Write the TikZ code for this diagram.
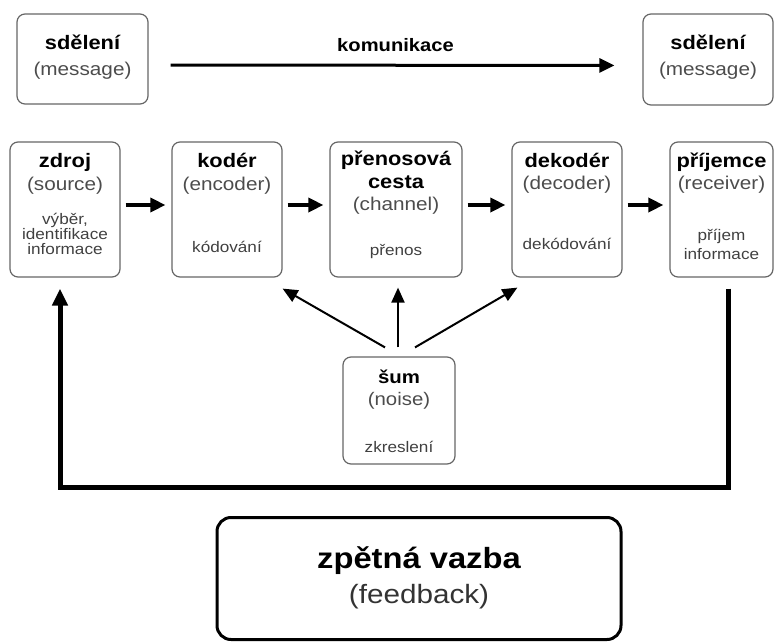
\documentclass[tikz,border=0pt]{standalone}
\usepackage{fontspec}
\setmainfont[FakeStretch=1.12]{Liberation Sans}
\usetikzlibrary{arrows.meta,positioning}

\tikzset{
  box/.style={draw=black!60,line width=1.2pt,rounded corners=8pt,inner sep=0pt},
  nazev/.style={anchor=base,inner sep=0pt,font=\bfseries\fontsize{19.5}{21}\selectfont},
  anglicky/.style={anchor=base,inner sep=0pt,text=black!70,font=\fontsize{18.5}{21}\selectfont},
  popis/.style={anchor=base,inner sep=0pt,text=black!75,font=\fontsize{15.3}{16}\selectfont},
  sipka/.style={-{Triangle[length=15pt,width=14pt]},line width=3.5pt},
  tenka/.style={-{Triangle[length=15pt,width=13pt]},line width=2pt},
}

\begin{document}
\begin{tikzpicture}[x=1pt,y=-1pt,line join=round]
\useasboundingbox (0,0) rectangle (774,642);

% sdeleni nahore
\node[box,minimum width=131pt,minimum height=90pt] (zprava1) at (82.5,59) {};
\node[box,minimum width=130pt,minimum height=91pt] (zprava2) at (708,59.5) {};
\node[nazev] (zprava1-n) at (82.5,50) {sdělení};
\node[anglicky] (zprava1-a) at (82.5,76) {(message)};
\node[nazev] (zprava2-n) at (708,50) {sdělení};
\node[anglicky] (zprava2-a) at (708,76) {(message)};
\draw[sipka,line width=3pt,shorten <=22pt,shorten >=28pt] ([yshift=-6pt]zprava1.east) -- ([yshift=-6pt]zprava2.west)
  node[midway,above=9pt,font=\bfseries\fontsize{18}{20}\selectfont] (komunikace) {komunikace};

% rada bloku
\node[box,minimum width=110pt,minimum height=135pt] (zdroj) at (65,209.5) {};
\node[box,minimum width=110pt,minimum height=135pt] (koder) at (227,209.5) {};
\node[box,minimum width=132pt,minimum height=135pt] (kanal) at (396,209.5) {};
\node[box,minimum width=110pt,minimum height=135pt] (dekoder) at (567,209.5) {};
\node[box,minimum width=103pt,minimum height=135pt] (prijemce) at (721.5,209.5) {};

\node[nazev] (zdroj-n) at (65,167) {zdroj};
\node[anglicky] (zdroj-a) at (65,190) {(source)};
\node[popis] (zdroj-p1) at (65,224) {výběr,};
\node[popis] (zdroj-p2) at (65,239) {identifikace};
\node[popis] (zdroj-p3) at (65,254) {informace};

\node[nazev] (koder-n) at (227,167) {kodér};
\node[anglicky] (koder-a) at (227,190) {(encoder)};
\node[popis] (koder-p) at (227,252) {kódování};

\node[nazev] (kanal-n) at (396,165) {přenosová};
\node[nazev] (kanal-n2) at (396,188) {cesta};
\node[anglicky] (kanal-a) at (396,210) {(channel)};
\node[popis] (kanal-p) at (396,255) {přenos};

\node[nazev] (dekoder-n) at (567,167) {dekodér};
\node[anglicky] (dekoder-a) at (567,189) {(decoder)};
\node[popis] (dekoder-p) at (567,249) {dekódování};

\node[nazev] (prijemce-n) at (721.5,167) {příjemce};
\node[anglicky] (prijemce-a) at (721.5,189) {(receiver)};
\node[popis] (prijemce-p1) at (721.5,240) {příjem};
\node[popis] (prijemce-p2) at (721.5,259) {informace};

\foreach \a/\b in {zdroj/koder,koder/kanal,kanal/dekoder,dekoder/prijemce}
  \draw[sipka,shorten <=5pt,shorten >=6pt] ([yshift=4.5pt]\a.east) -- ([yshift=4.5pt]\b.west);

% sum
\node[box,minimum width=112pt,minimum height=107pt] (sum) at (399,410.5) {};
\node[nazev,font=\bfseries\fontsize{18.2}{20}\selectfont] (sum-n) at (399,383) {šum};
\node[anglicky,font=\fontsize{18.2}{20}\selectfont] (sum-a) at (399,405) {(noise)};
\node[popis] (sum-p) at (399,452) {zkreslení};

\draw[tenka] ([xshift=-14pt,yshift=9pt]sum.north) -- ([xshift=0pt,yshift=-11pt]koder.south east);
\draw[tenka] ([xshift=-1pt,yshift=9pt]sum.north) -- ([xshift=2pt,yshift=-10pt]kanal.south);
\draw[tenka] ([xshift=16pt,yshift=9pt]sum.north) -- ([xshift=6pt,yshift=-10pt]dekoder.south west);

% zpetna vazba
\coordinate (dole) at (400,487);
\draw[-{Triangle[length=17pt,width=15pt]},line width=5pt,line join=miter]
  ([xshift=7pt,yshift=-11pt]prijemce.south) |- (dole) -| ([xshift=-5pt,yshift=-11pt]zdroj.south);
\node[box,draw=black,line width=3pt,rounded corners=14pt,minimum width=404pt,minimum height=122pt] (zpetna) at (419,578.5) {};
\node[nazev,font=\bfseries\fontsize{29.2}{31}\selectfont] (zpetna-n) at (419,568) {zpětná vazba};
\node[anglicky,text=black!80,font=\fontsize{26.5}{30}\selectfont] (zpetna-a) at (419,603) {(feedback)};
\end{tikzpicture}
\end{document}
